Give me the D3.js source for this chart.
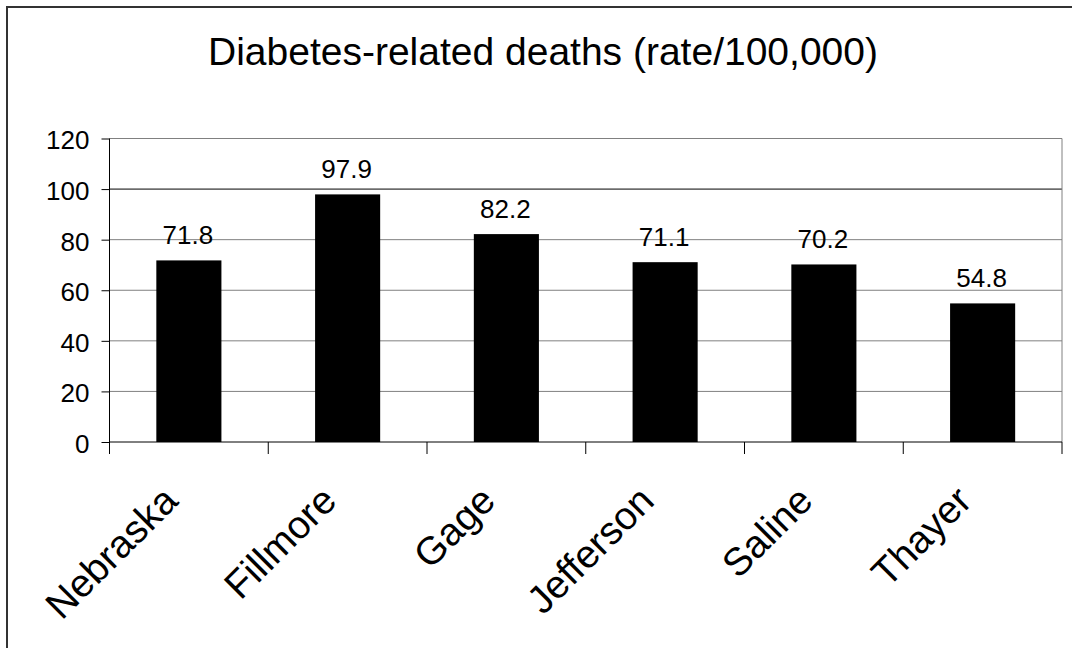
<!doctype html>
<html lang="en">
  <head>
    <meta charset="utf-8">
    <title>Diabetes-related deaths</title>
    <script src="https://d3js.org/d3.v7.min.js"></script>
    <style>
      body {
        margin: 0;
        background: #fff;
        font-family: 'Liberation Sans', Arial, sans-serif;
      }
      svg { display: block; }
    </style>
  </head>
  <body>
    <div id="root"></div>
  </body>
  <script>

    //data:
    const categories = ['Nebraska', 'Fillmore', 'Gage', 'Jefferson', 'Saline', 'Thayer'];
    const rates = [71.8, 97.9, 82.2, 71.1, 70.2, 54.8];
    const yTicks = [0, 20, 40, 60, 80, 100, 120];
    const title = 'Diabetes-related deaths (rate/100,000)';

    //layout constants:
    const width = 1072;
    const height = 648;
    const plot = {left: 109.5, right: 1062, top: 138.5, bottom: 442};
    const barFrac = 0.41;

    const svg = d3.select('#root')
      .append('svg')
      .attr('width', width)
      .attr('height', height);

    //outer chart border (only top and left visible in the crop)
    svg.append('rect')
      .attr('x', 7).attr('y', 7)
      .attr('width', width + 20).attr('height', height + 20)
      .attr('fill', '#fff')
      .attr('stroke', '#333')
      .attr('stroke-width', 2);

    //title
    svg.append('text')
      .attr('x', 543)
      .attr('y', 65)
      .attr('text-anchor', 'middle')
      .style('font-size', '39px')
      .text(title);

    //scales:
    const xScale = d3.scaleBand()
      .domain(categories)
      .range([plot.left, plot.right])
      .padding(0);

    const yScale = d3.scaleLinear()
      .domain([0, 120])
      .range([plot.bottom, plot.top]);

    //gridlines
    svg.append('g')
      .selectAll('line')
      .data(yTicks.filter(d => d > 0))
      .enter()
      .append('line')
      .attr('x1', plot.left)
      .attr('x2', plot.right)
      .attr('y1', d => yScale(d))
      .attr('y2', d => yScale(d))
      .attr('stroke', d => d === 100 ? '#000' : '#808080')
      .attr('stroke-width', 1);

    //right border of plot area
    svg.append('line')
      .attr('x1', plot.right).attr('x2', plot.right)
      .attr('y1', plot.top).attr('y2', plot.bottom)
      .attr('stroke', '#808080');

    //bars
    const bw = xScale.bandwidth() * barFrac;
    svg.append('g')
      .selectAll('rect')
      .data(rates)
      .enter()
      .append('rect')
      .attr('x', (d, i) => xScale(categories[i]) + (xScale.bandwidth() - bw) / 2)
      .attr('y', d => yScale(d))
      .attr('width', bw)
      .attr('height', d => yScale(0) - yScale(d))
      .attr('fill', '#000');

    //value labels
    svg.append('g')
      .selectAll('text')
      .data(rates)
      .enter()
      .append('text')
      .attr('x', (d, i) => xScale(categories[i]) + xScale.bandwidth() / 2 - 1)
      .attr('y', d => yScale(d) - 16)
      .attr('text-anchor', 'middle')
      .style('font-size', '26px')
      .text(d => d.toFixed(1));

    //y axis
    const yAxis = d3.axisLeft(yScale)
      .tickValues(yTicks)
      .tickSize(8)
      .tickPadding(12)
      .tickFormat(d3.format('d'));

    const gy = svg.append('g')
      .attr('transform', `translate(${plot.left}, 0)`)
      .call(yAxis);
    gy.select('.domain').remove();
    gy.append('line')
      .attr('x1', 0).attr('x2', 0)
      .attr('y1', plot.top).attr('y2', plot.bottom + 12)
      .attr('stroke', '#000');
    gy.selectAll('.tick line').attr('stroke', '#000');
    gy.selectAll('.tick text')
      .attr('dy', '0.4em')
      .attr('fill', '#000')
      .style('font-size', '26px')
      .style('font-family', "'Liberation Sans', Arial, sans-serif");

    //x axis: line + boundary ticks
    const gx = svg.append('g');
    gx.append('line')
      .attr('x1', plot.left).attr('x2', plot.right)
      .attr('y1', plot.bottom).attr('y2', plot.bottom)
      .attr('stroke', '#000');
    const bounds = categories.map(c => xScale(c)).concat([plot.right]);
    gx.selectAll('.xtick')
      .data(bounds)
      .enter()
      .append('line')
      .attr('class', 'xtick')
      .attr('x1', d => d).attr('x2', d => d)
      .attr('y1', plot.bottom).attr('y2', plot.bottom + 12)
      .attr('stroke', '#000');

    //category labels, rotated
    gx.selectAll('.xlabel')
      .data(categories)
      .enter()
      .append('text')
      .attr('class', 'xlabel')
      .attr('text-anchor', 'end')
      .attr('transform', d => `translate(${xScale(d) + xScale.bandwidth() / 2 - 9}, 503) rotate(-45)`)
      .style('font-size', '39px')
      .text(d => d);

  </script>
</html>
